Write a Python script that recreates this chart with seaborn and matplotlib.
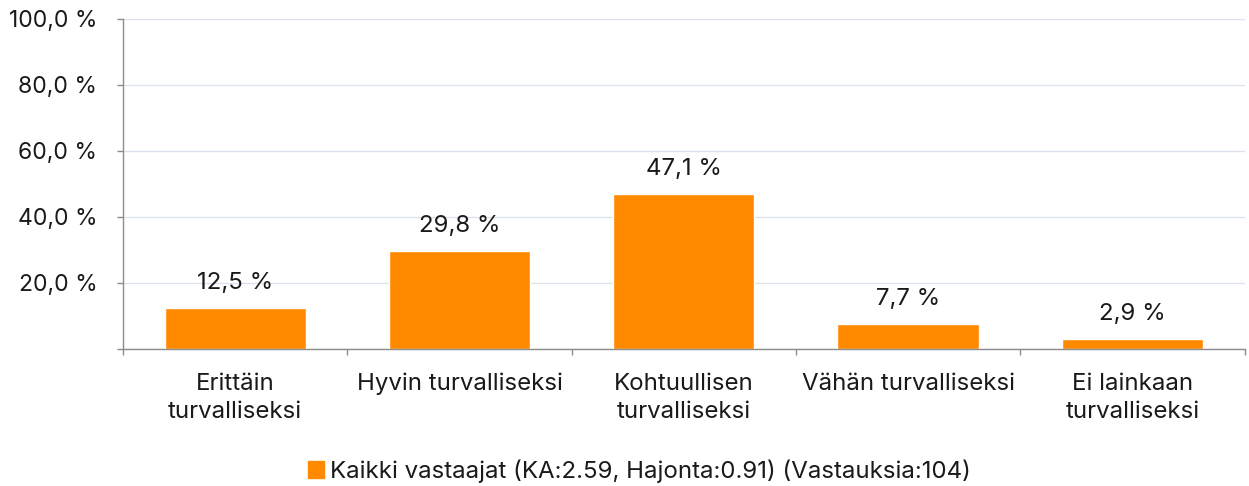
import matplotlib
matplotlib.use("Agg")
import matplotlib.pyplot as plt
import seaborn as sns
import numpy as np
import pandas as pd
from matplotlib.patches import Patch
from matplotlib.ticker import FixedLocator

categories = ["Erittäin\nturvalliseksi", "Hyvin turvalliseksi", "Kohtuullisen\nturvalliseksi",
              "Vähän turvalliseksi", "Ei lainkaan\nturvalliseksi"]
values = [12.5, 29.8, 47.1, 7.7, 2.9]
series_name = "Kaikki vastaajat (KA:2.59, Hajonta:0.91) (Vastauksia:104)"
yticks = [0, 20, 40, 60, 80, 100]

orange = "#FF8A00"
axcol = "#8c8c8c"
txtcol = "#1a1a1a"
fs = 17.3

sns.set_style("white")
plt.rcParams['font.family'] = ['Inter', 'DejaVu Sans']
plt.rcParams['xtick.bottom'] = True
plt.rcParams['ytick.left'] = True

df = pd.DataFrame({"cat": categories, "val": values})

fig = plt.figure(figsize=(12.49, 4.86), dpi=100)
ax = fig.add_axes([0.0985, 0.282, 0.898, 0.679])
sns.barplot(data=df, x="cat", y="val", color=orange, width=0.63, saturation=1, ax=ax)

ax.set_xlim(-0.5, len(categories) - 0.5)
ax.set_ylim(0, 100)
ax.set_yticks(yticks)
ax.set_yticklabels(["" if v == 0 else "{:.1f} %".format(v).replace(".", ",") for v in yticks],
                   fontsize=16.5, color=txtcol)
ax.yaxis.grid(True, color="#dde3ec", linewidth=1)
ax.set_axisbelow(True)
ax.tick_params(axis="y", length=4.5, width=1, color=axcol, pad=14)

ax.xaxis.set_minor_locator(FixedLocator(np.arange(-0.5, len(categories), 1)))
ax.tick_params(axis="x", which="major", length=0, pad=17, labelsize=fs, labelcolor=txtcol)
ax.tick_params(axis="x", which="minor", length=4.5, width=1, color=axcol)
for lab in ax.get_xticklabels():
    lab.set_linespacing(1.4)
ax.set_xlabel("")
ax.set_ylabel("")

for s in ["top", "right"]:
    ax.spines[s].set_visible(False)
for s in ["left", "bottom"]:
    ax.spines[s].set_color(axcol)
    ax.spines[s].set_linewidth(1)

for i, v in enumerate(values):
    ax.annotate("{:.1f} %".format(v).replace(".", ","), (i, v), xytext=(0, 10),
                textcoords="offset points", ha="center", va="bottom", fontsize=fs, color=txtcol)

fig.legend(handles=[Patch(color=orange, label=series_name)], loc="center",
           bbox_to_anchor=(0.512, 0.03), frameon=False, fontsize=fs, labelcolor=txtcol,
           handlelength=0.7, handleheight=0.7, handletextpad=0.25)

fig.savefig("out.png", dpi=100)
